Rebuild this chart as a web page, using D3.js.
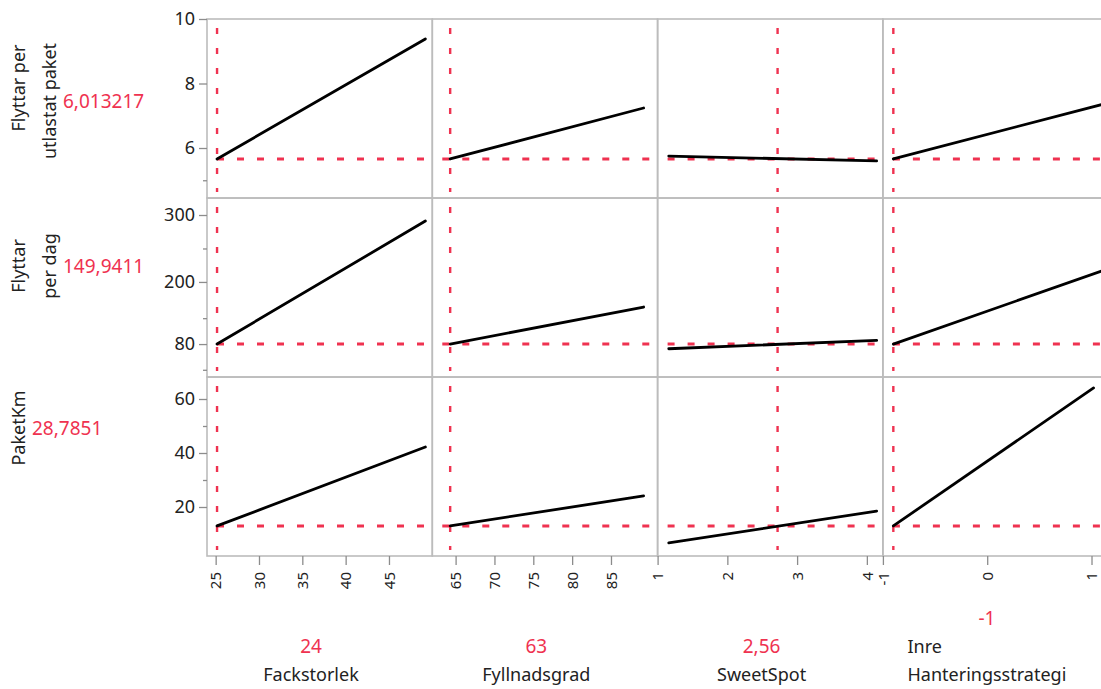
<!DOCTYPE html>
<html>
<head>
<meta charset="utf-8">
<script src="https://cdn.jsdelivr.net/npm/d3@7"></script>
<style>
body { margin: 0; background: #fff; }
text { font-family: "Noto Sans", "Open Sans", sans-serif; }
</style>
</head>
<body>
<script>
(function () {

// factors (columns)
var factors = ["Fackstorlek", "Fyllnadsgrad", "SweetSpot", "Inre\nHanteringsstrategi"]
var factorSettings = ["24", "63", "2,56", "-1"]
var xDomains = [[24, 50], [62, 91], [1, 4.23], [-1, 1.16]]
var xTicks = [[25, 30, 35, 40, 45], [65, 70, 75, 80, 85], [1, 2, 3, 4], [-1, 0, 1]]
var xCurrent = [25.16, 64.3, 2.72, -0.9]

// responses (rows)
var responses = ["Flyttar per\nutlastat paket", "Flyttar\nper dag", "PaketKm"]
var predicted = ["6,013217", "149,9411", "28,7851"]
var yDomains = [[4.45, 10], [16, 80, 200, 300, 325], [1.85, 68.15]]
var yTicks = [[6, 8, 10], [80, 200, 300], [20, 40, 60]]
var yMinorTicks = [[5], [30, 130, 250], [30, 50]]
var yCurrent = [5.66, 80, 13.0]

// profile traces, per row: one [start, end] per factor
var traceXStart = [25.16, 64.3, 1.16, -0.9]
var traceXEnd = [
  [49.2, 89.2, 4.14, 1.1],
  [49.2, 89.2, 4.14, 1.1],
  [49.2, 89.2, 4.14, 1.02]
]
var traceY = [
  [[5.66, 9.38], [5.66, 7.24], [5.75, 5.60], [5.66, 7.35]],
  [[80, 291], [80, 151.6], [70.9, 87.2], [80, 216.4]],
  [[13.0, 42.2], [13.0, 24.1], [6.7, 18.5], [13.0, 64.1]]
]

var width = 1101,
    height = 689,
    left = 207,
    top = 19,
    colW = 225.3,
    rowH = 179

var red = "#ef3250",
    grid = "#bcbcbc",
    ink = "#222"

// plain tick text, hyphen minus like the original
var plain = function(d) { return String(d) }

// row 2 axis is not evenly spaced, so its scale has extra stops (fraction of height from bottom)
var yStops = [[0, 1], [0, 0.184, 0.531, 0.905, 1], [0, 1]]

var svg = d3.select("body")
  .append("svg")
  .attr("width", width)
  .attr("height", height)

function makeTranslate(x, y) {
  return "translate(" + x + " " + y + ")"
}

var xScales = xDomains.map(function(d) {
  return d3.scaleLinear().domain(d).range([0, colW])
})
var yScales = yDomains.map(function(d, i) {
  return d3.scaleLinear().domain(d).range(yStops[i].map(function(f) { return rowH * (1 - f) }))
})

responses.forEach(function(resp, r) {
  var y = yScales[r]

  factors.forEach(function(f, c) {
    var x = xScales[c]
    var g = svg.append("g")
      .attr("transform", makeTranslate(left + c * colW, top + r * rowH))

    g.append("rect")
      .attr("width", colW)
      .attr("height", rowH)
      .attr("fill", "none")
      .attr("stroke", grid)
      .attr("stroke-width", 1.6)

    // current setting (vertical) and predicted value (horizontal)
    g.append("line")
      .attr("x1", x(xCurrent[c]))
      .attr("x2", x(xCurrent[c]))
      .attr("y1", 9)
      .attr("y2", rowH - 6)
      .attr("stroke", red)
      .attr("stroke-width", 2.4)
      .attr("stroke-dasharray", "6,14")

    g.append("line")
      .attr("x1", 10)
      .attr("x2", 217)
      .attr("y1", y(yCurrent[r]))
      .attr("y2", y(yCurrent[r]))
      .attr("stroke", red)
      .attr("stroke-width", 3)
      .attr("stroke-dasharray", "7,13")

    g.append("line")
      .attr("x1", x(traceXStart[c]))
      .attr("x2", x(traceXEnd[r][c]))
      .attr("y1", y(traceY[r][c][0]))
      .attr("y2", y(traceY[r][c][1]))
      .attr("stroke", "#000")
      .attr("stroke-width", 2.8)
      .attr("stroke-linecap", "round")
  })

  // y axis
  var ya = svg.append("g")
    .attr("transform", makeTranslate(left, top + r * rowH))
    .call(d3.axisLeft(y).tickValues(yTicks[r]).tickFormat(plain).tickSize(8).tickPadding(4))
  ya.select(".domain").remove()
  ya.selectAll("line").attr("stroke", "#8c8c8c").attr("stroke-width", 1.3)
  ya.selectAll("text")
    .attr("font-size", 18)
    .attr("font-family", null)
    .attr("fill", ink)

  var ym = svg.append("g")
    .attr("transform", makeTranslate(left, top + r * rowH))
    .call(d3.axisLeft(y).tickValues(yMinorTicks[r]).tickSize(4).tickFormat(""))
  ym.select(".domain").remove()
  ym.selectAll("line").attr("stroke", "#8c8c8c").attr("stroke-width", 1.3)

  // response label, rotated, with predicted value
  var lines = resp.split("\n")
  var centers = [[69, 82], [68, 68], [51]][r]
  lines.forEach(function(line, i) {
    svg.append("text")
      .attr("transform", makeTranslate(25 + 31 * i, top + r * rowH + centers[i]) + " rotate(-90)")
      .attr("text-anchor", "middle")
      .attr("font-size", 18)
      .attr("fill", ink)
      .text(line)
  })
  var last = lines.length - 1
  svg.append("text")
    .attr("x", 25 + 31 * last + 7)
    .attr("y", top + r * rowH + centers[last] + 7)
    .attr("font-size", 19)
    .attr("fill", red)
    .text(predicted[r])
})

// x axes and factor labels
factors.forEach(function(f, c) {
  var x = xScales[c]
  var xa = svg.append("g")
    .attr("transform", makeTranslate(left + c * colW, top + 3 * rowH))
    .call(d3.axisBottom(x).tickValues(xTicks[c]).tickFormat(plain).tickSize(9))
  xa.select(".domain").remove()
  xa.selectAll("line").attr("stroke", "#8c8c8c").attr("stroke-width", 1.3)
  xa.selectAll("text")
    .attr("font-size", 15)
    .attr("font-family", null)
    .attr("fill", ink)
    .attr("x", -16)
    .attr("y", 0)
    .attr("dy", "0.35em")
    .attr("transform", "rotate(-90)")
    .style("text-anchor", "end")

  var cx = left + c * colW + 104
  var lines = f.split("\n")
  var base = 681
  var label = svg.append("text")
    .attr("font-size", 18)
    .attr("fill", ink)
  lines.forEach(function(line, i) {
    label.append("tspan")
      .attr("y", base - 28 * (lines.length - 1 - i))
      .text(line)
  })
  var maxW = 0
  label.selectAll("tspan").each(function() {
    maxW = Math.max(maxW, this.getComputedTextLength())
  })
  if (lines.length > 1) {
    label.selectAll("tspan").attr("x", cx - maxW / 2)
  } else {
    label.attr("text-anchor", "middle").selectAll("tspan").attr("x", cx)
  }

  svg.append("text")
    .attr("x", cx)
    .attr("y", base - 28 * lines.length)
    .attr("text-anchor", "middle")
    .attr("font-size", 19)
    .attr("fill", red)
    .text(factorSettings[c])
})

})()
</script>
</body>
</html>
